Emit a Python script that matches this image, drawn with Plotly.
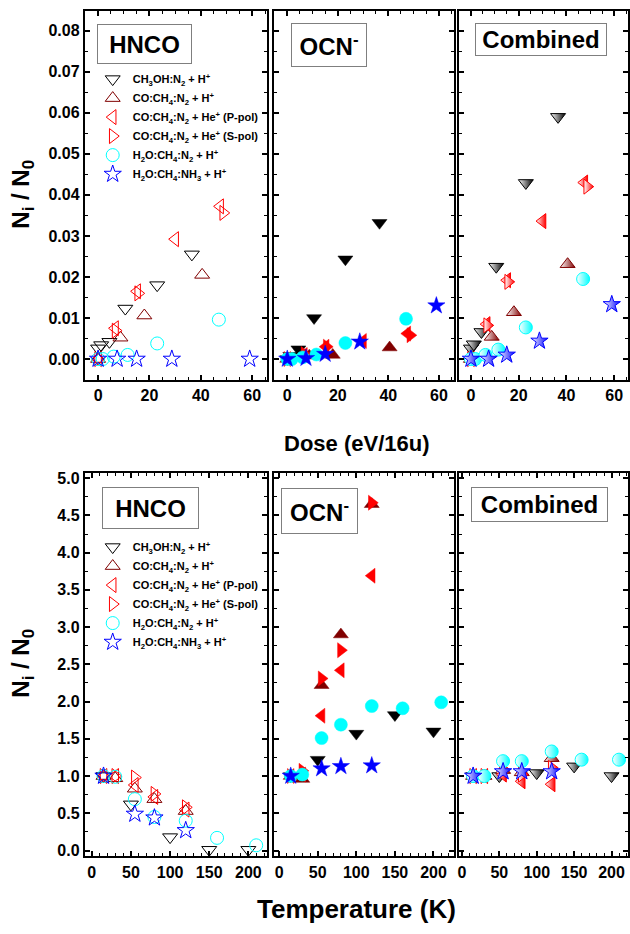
import plotly.graph_objects as go

# ---- dose panels (top row) ----
dose_ch3oh = [0, 1.2, 4.4, 10.6, 23.0, 36.5]
dose_co_h = [0, 8.7, 18.0, 40.5]
dose_ppol = [0, 6.6, 15.2, 30.0, 47.5]
dose_spol = [0, 6.8, 15.6, 48.7]
dose_h2o_n2 = [0, 1.8, 6.1, 11.5, 23.0, 47.0]
dose_h2o_nh3 = [0, 7.4, 15.0, 28.7, 59.0]

hnco_dose = {
    "ch3oh": [0.0026, 0.0034, 0.0042, 0.0123, 0.0180, 0.0255],
    "co_h": [0.0, 0.0052, 0.0106, 0.0205],
    "ppol": [0.0, 0.0075, 0.0165, 0.0292, 0.0372],
    "spol": [0.0, 0.0069, 0.0160, 0.0356],
    "h2o_n2": [0.0, 0.0, 0.0006, 0.0010, 0.0038, 0.0096],
    "h2o_nh3": [0.0, 0.0, 0.0, 0.0, 0.0],
}
ocn_dose = {
    "ch3oh": [0.0, 0.0008, 0.0024, 0.0100, 0.0243, 0.0332],
    "co_h": [0.0, 0.0008, 0.0010, 0.0028],
    "ppol": [0.0, 0.0010, 0.0030, 0.0044, 0.0062],
    "spol": [0.0, 0.0012, 0.0030, 0.0058],
    "h2o_n2": [0.0, 0.0, 0.0004, 0.0011, 0.0039, 0.0098],
    "h2o_nh3": [0.0, 0.0002, 0.0012, 0.0042, 0.0130],
}
comb_dose = {
    "ch3oh": [0.0026, 0.0036, 0.0066, 0.0225, 0.0429, 0.0590],
    "co_h": [0.0, 0.0054, 0.0114, 0.0231],
    "ppol": [0.0, 0.0085, 0.0192, 0.0336, 0.0430],
    "spol": [0.0, 0.0082, 0.0188, 0.0420],
    "h2o_n2": [0.0, 0.0, 0.0010, 0.0023, 0.0077, 0.0195],
    "h2o_nh3": [0.0, 0.0, 0.0010, 0.0044, 0.0133],
}

# ---- temperature panels (bottom row) ----
temp_ch3oh = [15, 50, 100, 150, 200]
temp_co_h = [15, 30, 55, 80, 120]
temp_ppol = [15, 30, 55, 80, 120]
temp_spol = [15, 30, 55, 80, 120]
temp_h2o_n2 = [15, 30, 55, 80, 120, 160, 210]
temp_h2o_nh3 = [15, 55, 80, 120]

hnco_temp = {
    "ch3oh": [1.0, 0.62, 0.18, 0.01, 0.01],
    "co_h": [1.0, 0.97, 0.83, 0.69, 0.53],
    "ppol": [1.0, 1.0, 0.88, 0.72, 0.55],
    "spol": [1.0, 1.0, 0.98, 0.76, 0.58],
    "h2o_n2": [1.0, 0.99, 0.69, 0.45, 0.40, 0.17, 0.07],
    "h2o_nh3": [1.0, 0.49, 0.44, 0.27],
}
ocn_temp = {
    "ch3oh": [1.0, 1.22, 1.57, 1.82, 1.60],
    "co_h": [1.0, 0.96, 2.22, 2.90, 4.65],
    "ppol": [1.0, 1.02, 1.81, 2.42, 3.69],
    "spol": [1.0, 1.07, 2.31, 2.69, 4.67],
    "h2o_n2": [1.0, 1.02, 1.51, 1.69, 1.94, 1.91, 1.99],
    "h2o_nh3": [1.0, 1.10, 1.13, 1.14],
}
comb_temp = {
    "ch3oh": [1.0, 1.0, 1.04, 1.13, 1.0],
    "co_h": [1.0, 1.0, 1.08, 1.05, 1.24],
    "ppol": [1.0, 1.0, 1.02, 0.93, 0.89],
    "spol": [1.0, 1.0, 1.09, 1.02, 1.11],
    "h2o_n2": [1.0, 1.0, 1.20, 1.20, 1.33, 1.22, 1.22],
    "h2o_nh3": [1.0, 1.06, 1.06, 1.06],
}

series = ["ch3oh", "co_h", "ppol", "spol", "h2o_n2", "h2o_nh3"]
names = {
    "ch3oh": "CH<sub>3</sub>OH:N<sub>2</sub> + H<sup>+</sup>",
    "co_h": "CO:CH<sub>4</sub>:N<sub>2</sub> + H<sup>+</sup>",
    "ppol": "CO:CH<sub>4</sub>:N<sub>2</sub> + He<sup>+</sup> (P-pol)",
    "spol": "CO:CH<sub>4</sub>:N<sub>2</sub> + He<sup>+</sup> (S-pol)",
    "h2o_n2": "H<sub>2</sub>O:CH<sub>4</sub>:N<sub>2</sub> + H<sup>+</sup>",
    "h2o_nh3": "H<sub>2</sub>O:CH<sub>4</sub>:NH<sub>3</sub> + H<sup>+</sup>",
}
symbols = {"ch3oh": "triangle-down", "co_h": "triangle-up", "ppol": "triangle-left",
           "spol": "triangle-right", "h2o_n2": "circle", "h2o_nh3": "star"}
colors = {"ch3oh": "#000000", "co_h": "#800000", "ppol": "#ff0000",
          "spol": "#ff0000", "h2o_n2": "#00ffff", "h2o_nh3": "#0000ff"}
dose_x = {"ch3oh": dose_ch3oh, "co_h": dose_co_h, "ppol": dose_ppol,
          "spol": dose_spol, "h2o_n2": dose_h2o_n2, "h2o_nh3": dose_h2o_nh3}
temp_x = {"ch3oh": temp_ch3oh, "co_h": temp_co_h, "ppol": temp_ppol,
          "spol": temp_spol, "h2o_n2": temp_h2o_n2, "h2o_nh3": temp_h2o_nh3}

FONT = "Liberation Sans, Arial, sans-serif"
W, H = 630, 934
MS = 13

fig = go.Figure()


def marker(s, style):
    c = colors[s]
    if style == "open":
        return dict(symbol=symbols[s] + "-open", size=MS, color=c, line=dict(width=1, color=c))
    if style == "filled":
        return dict(symbol=symbols[s], size=MS, color=c, line=dict(width=0.5, color=c))
    # half filled look for the combined panel: open on the left, filled on the right
    return dict(symbol=symbols[s], size=MS, color="white", line=dict(width=1, color=c),
                gradient=dict(type="horizontal", color=c))


def add_panel(xs, vals, n, style, legend=None):
    for s in series:
        fig.add_trace(go.Scatter(
            x=xs[s], y=vals[s], mode="markers", name=names[s],
            marker=marker(s, style),
            xaxis="x%d" % n, yaxis="y%d" % n,
            showlegend=legend is not None,
            legend=legend if legend else "legend",
            hoverinfo="skip",
        ))


add_panel(dose_x, hnco_dose, 1, "open", "legend")
add_panel(dose_x, ocn_dose, 2, "filled")
add_panel(dose_x, comb_dose, 3, "half")
add_panel(temp_x, hnco_temp, 4, "open", "legend2")
add_panel(temp_x, ocn_temp, 5, "filled")
add_panel(temp_x, comb_temp, 6, "half")


def px_x(a, b):
    return [a / W, b / W]


def px_y(top, bot):
    return [1 - bot / H, 1 - top / H]


tickfont = dict(family=FONT, size=16, color="black", weight="bold")


def xax(dom, rng, dtick, mdt, anchor):
    return dict(domain=dom, range=rng, dtick=dtick, tick0=0, anchor=anchor,
                ticks="inside", ticklen=5, tickwidth=1.5, tickcolor="black",
                showline=True, linewidth=2, linecolor="black", mirror="ticks",
                showgrid=False, zeroline=False, tickfont=tickfont,
                minor=dict(dtick=mdt, tick0=0, ticks="inside", ticklen=3,
                           tickwidth=1, tickcolor="black", showgrid=False))


def yax(dom, rng, dtick, mdt, anchor, labels, fmt):
    d = xax(dom, rng, dtick, mdt, anchor)
    d.update(showticklabels=labels, tickformat=fmt)
    return d


top = px_y(8, 379)
bot = px_y(473, 859)
cols = [px_x(84, 267), px_x(274, 454), px_x(459, 629)]

layout = dict(
    width=W, height=H, margin=dict(l=0, r=0, t=0, b=0),
    plot_bgcolor="white", paper_bgcolor="white",
    font=dict(family=FONT, color="black"),
)
dose_rng = [-5.2, 65.8]
temp_rngs = [[-9, 224], [-6.5, 226], [-4.5, 222]]
for i in range(3):
    n = i + 1
    layout["xaxis%d" % n] = xax(cols[i], dose_rng, 20, 5, "y%d" % n)
    layout["yaxis%d" % n] = yax(top, [-0.005, 0.0848], 0.01, 0.005, "x%d" % n, i == 0, ".2f")
    m = i + 4
    layout["xaxis%d" % m] = xax(cols[i], temp_rngs[i], 50, 10, "y%d" % m)
    layout["yaxis%d" % m] = yax(bot, [-0.08, 5.07], 0.5, 0.25, "x%d" % m, i == 0, ".1f")

legfont = dict(family=FONT, size=11, color="black", weight="bold")
layout["legend"] = dict(x=92 / W, y=1 - 62 / H, xanchor="left", yanchor="top",
                        bgcolor="rgba(0,0,0,0)", font=legfont, tracegroupgap=0)
layout["legend2"] = dict(x=92 / W, y=1 - 533 / H, xanchor="left", yanchor="top",
                         bgcolor="rgba(0,0,0,0)", font=legfont, tracegroupgap=0)
fig.update_layout(**layout)

# panel label boxes: (text, centre x, centre y, width, height)
boxes = [
    ("HNCO", 144, 41, 93, 38), ("OCN<sup>-</sup>", 329, 42, 74, 42), ("Combined", 542, 37, 130, 31),
    ("HNCO", 150, 508, 95, 40), ("OCN<sup>-</sup>", 320, 511, 75, 44), ("Combined", 540, 505, 135, 33),
]
for txt, cx, cy, bw, bh in boxes:
    fig.add_annotation(text=txt, xref="paper", yref="paper", x=cx / W, y=1 - cy / H,
                       xanchor="center", yanchor="middle", showarrow=False,
                       width=bw, height=bh, borderpad=0, bordercolor="#7f7f7f", borderwidth=1,
                       bgcolor="white", font=dict(family=FONT, size=24, color="black", weight="bold"))

fig.add_annotation(text="Dose (eV/16u)", xref="paper", yref="paper", x=357 / W, y=1 - 443 / H,
                   showarrow=False, xanchor="center", yanchor="middle",
                   font=dict(family=FONT, size=22, color="black", weight="bold"))
fig.add_annotation(text="Temperature (K)", xref="paper", yref="paper", x=357 / W, y=1 - 912 / H,
                   showarrow=False, xanchor="center", yanchor="middle",
                   font=dict(family=FONT, size=26, color="black", weight="bold"))
for cy in (192, 664):
    fig.add_annotation(text="N<sub>i</sub> / N<sub>0</sub>", xref="paper", yref="paper",
                       x=22 / W, y=1 - cy / H, textangle=-90, showarrow=False,
                       xanchor="center", yanchor="middle", font=dict(family=FONT, size=24, color="black", weight="bold"))

# page body margin would push the 630x934 figure off the window
fig.write_html("out.html", config={"displayModeBar": False},
               post_script="document.body.style.margin='0';")
